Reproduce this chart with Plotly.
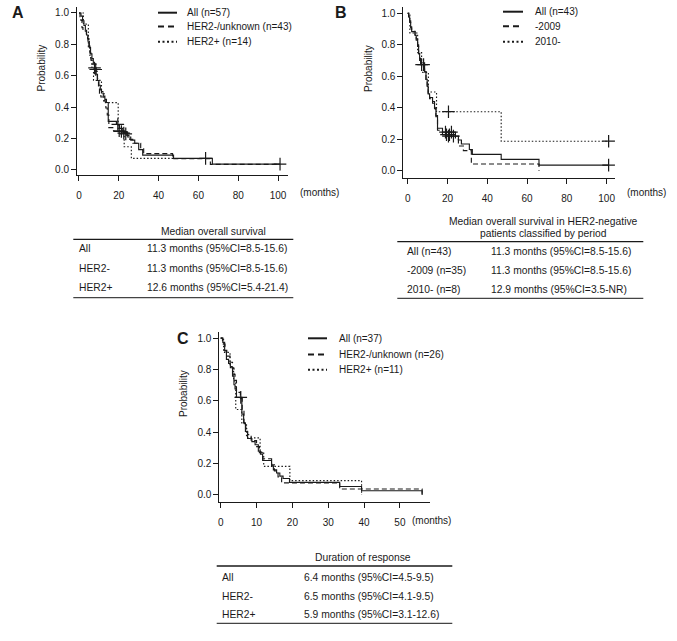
import plotly.graph_objects as go

W, H = 677, 641
FONT = "Liberation Sans, Arial, sans-serif"
INK = "#1a1a1a"

# ---------------- Data ----------------
# Panel A: overall survival, all patients (n=57)
a_all_t = [0, 1.0, 1.8, 2.5, 3.2, 3.8, 4.5, 5.2, 5.8, 6.5, 7.2, 7.8, 8.6, 9.3, 10.0, 10.7, 11.3, 12.2, 13.0, 13.8, 14.7,
           18.8, 20.3, 22.0, 24.5, 26.0, 28.0, 30.0, 32.0, 47.5, 67.0, 101.0]
a_all_s = [1.0, 0.98, 0.95, 0.92, 0.89, 0.86, 0.82, 0.78, 0.74, 0.71, 0.68, 0.65, 0.61, 0.57, 0.54, 0.51, 0.49, 0.47, 0.45, 0.43, 0.31,
           0.29, 0.265, 0.24, 0.21, 0.19, 0.17, 0.13, 0.095, 0.074, 0.037, 0.037]
a_all_cens_t = [7.8, 8.4, 19.5, 20.2, 21.3, 22.5, 23.5, 63.6, 101.0]
a_all_cens_s = [0.65, 0.64, 0.29, 0.25, 0.245, 0.235, 0.23, 0.074, 0.037]

# HER2-negative / unknown (n=43) -- same cohort as "All (n=43)" in panel B
her2neg_t = [0, 0.5, 1.0, 1.5, 2.0, 3.7, 4.3, 5.0, 5.5, 6.0, 6.5, 8.5, 9.2, 9.8, 10.3, 11.0, 12.5, 13.5, 14.2, 15.0,
             17.5, 24.0, 25.5, 27.0, 31.0, 32.5, 47.0, 66.0, 101.0]
her2neg_s = [1.0, 0.977, 0.953, 0.907, 0.884, 0.86, 0.837, 0.79, 0.744, 0.70, 0.674, 0.628, 0.581, 0.535, 0.488, 0.465, 0.44, 0.395, 0.35, 0.27,
             0.245, 0.22, 0.195, 0.17, 0.135, 0.104, 0.072, 0.036, 0.036]
her2neg_cens_t = [7.0, 8.0, 19.0, 20.5, 22.0, 23.0, 101.0]
her2neg_cens_s = [0.674, 0.674, 0.245, 0.22, 0.245, 0.22, 0.036]

# HER2-positive (n=14)
a_pos_t = [0, 2.2, 4.7, 5.5, 6.5, 7.3, 11.3, 12.6, 19.7, 22.7, 26.3, 48.0]
a_pos_s = [1.0, 0.929, 0.786, 0.714, 0.643, 0.571, 0.5, 0.429, 0.25, 0.148, 0.074, 0.074]

# Panel B: HER2-negative by period
b_pre_t = [0, 0.5, 1.0, 1.5, 2.0, 3.7, 4.3, 5.0, 5.5, 6.0, 6.5, 8.5, 9.2, 9.8, 10.3, 11.0, 12.5, 13.5, 14.2, 15.0,
           17.5, 24.0, 25.5, 28.0, 32.0, 66.0]
b_pre_s = [1.0, 0.971, 0.943, 0.914, 0.886, 0.857, 0.829, 0.80, 0.743, 0.714, 0.686, 0.629, 0.571, 0.543, 0.486, 0.457, 0.429, 0.40, 0.343, 0.257,
           0.229, 0.20, 0.157, 0.128, 0.043, 0.0]
b_pre_cens_t = [19.5, 21.0]
b_pre_cens_s = [0.229, 0.229]

b_post_t = [0, 1.1, 5.0, 7.0, 10.4, 14.5, 47.0, 101.0]
b_post_s = [1.0, 0.875, 0.75, 0.625, 0.5, 0.375, 0.1875, 0.1875]
b_post_cens_t = [20.5, 101.0]
b_post_cens_s = [0.375, 0.1875]

# Panel C: duration of response
c_all_t = [0, 0.6, 1.1, 1.6, 2.2, 2.7, 3.3, 3.7, 4.0, 4.4, 5.9, 6.4, 6.9, 7.5, 8.7, 9.6, 10.5, 11.1, 11.7, 14.2, 14.7, 15.6, 16.5,
           17.4, 19.2, 33.2, 39.3, 56.2]
c_all_s = [1.0, 0.973, 0.919, 0.865, 0.838, 0.811, 0.757, 0.703, 0.676, 0.622, 0.515, 0.459, 0.405, 0.36, 0.34, 0.32, 0.28, 0.26, 0.22, 0.185,
           0.16, 0.14, 0.12, 0.105, 0.08, 0.054, 0.027, 0.0]
c_all_cens_t = [5.6]
c_all_cens_s = [0.622]

c_neg_t = [0, 0.5, 1.2, 1.7, 2.6, 3.3, 3.7, 4.0, 4.4, 5.5, 6.0, 6.5, 7.0, 7.5, 8.5, 10.0, 10.8, 11.7, 14.2, 15.0, 16.0, 17.0, 33.2, 56.2]
c_neg_s = [1.0, 0.962, 0.923, 0.885, 0.846, 0.808, 0.769, 0.731, 0.654, 0.615, 0.538, 0.462, 0.423, 0.385, 0.346, 0.308, 0.269, 0.231,
           0.192, 0.154, 0.115, 0.077, 0.038, 0.0]

c_pos_t = [0, 0.8, 2.6, 3.6, 4.2, 5.9, 7.2, 11.0, 12.0, 19.3, 39.3]
c_pos_s = [1.0, 0.909, 0.818, 0.727, 0.545, 0.455, 0.364, 0.273, 0.182, 0.091, 0.0]

# Legends and tables
legend_a = ["All (n=57)", "HER2-/unknown (n=43)", "HER2+ (n=14)"]
legend_b = ["All (n=43)", "-2009", "2010-"]
legend_c = ["All (n=37)", "HER2-/unknown (n=26)", "HER2+ (n=11)"]

table_a_title = ["Median overall survival"]
table_a_labels = ["All", "HER2-", "HER2+"]
table_a_values = ["11.3 months (95%CI=8.5-15.6)", "11.3 months (95%CI=8.5-15.6)", "12.6 months (95%CI=5.4-21.4)"]

table_b_title = ["Median overall survival in HER2-negative", "patients classified by period"]
table_b_labels = ["All (n=43)", "-2009 (n=35)", "2010- (n=8)"]
table_b_values = ["11.3 months (95%CI=8.5-15.6)", "11.3 months (95%CI=8.5-15.6)", "12.9 months (95%CI=3.5-NR)"]

table_c_title = ["Duration of response"]
table_c_labels = ["All", "HER2-", "HER2+"]
table_c_values = ["6.4 months (95%CI=4.5-9.5)", "6.5 months (95%CI=4.1-9.5)", "5.9 months (95%CI=3.1-12.6)"]

# ---------------- Figure ----------------
DASH = "5px,3px"
DOT = "1.5px,2px"

fig = go.Figure()


def px(x):
    return x / W


def py(y):
    return 1 - y / H


def add_curve(t, s, dash, ax):
    fig.add_trace(go.Scatter(x=t, y=s, mode="lines", line=dict(color=INK, width=1.15, dash=dash, shape="hv"),
                             xaxis="x" + ax, yaxis="y" + ax, showlegend=False, hoverinfo="skip"))


def add_cens(t, s, ax):
    fig.add_trace(go.Scatter(x=t, y=s, mode="markers",
                             marker=dict(symbol="cross-thin", size=9, line=dict(color=INK, width=1.2)),
                             xaxis="x" + ax, yaxis="y" + ax, showlegend=False, hoverinfo="skip"))


# panel A
add_curve(her2neg_t, her2neg_s, DASH, "")
add_curve(a_pos_t, a_pos_s, DOT, "")
add_curve(a_all_t, a_all_s, "solid", "")
add_cens(a_all_cens_t, a_all_cens_s, "")
# panel B
add_curve(b_pre_t, b_pre_s, DASH, "2")
add_curve(b_post_t, b_post_s, DOT, "2")
add_curve(her2neg_t, her2neg_s, "solid", "2")
add_cens(her2neg_cens_t, her2neg_cens_s, "2")
add_cens(b_pre_cens_t, b_pre_cens_s, "2")
add_cens(b_post_cens_t, b_post_cens_s, "2")
# panel C
add_curve(c_neg_t, c_neg_s, DASH, "3")
add_curve(c_pos_t, c_pos_s, DOT, "3")
add_curve(c_all_t, c_all_s, "solid", "3")
add_cens(c_all_cens_t, c_all_cens_s, "3")

axis_common = dict(showline=True, linecolor=INK, linewidth=1, ticks="outside", ticklen=5, tickwidth=1,
                   tickcolor=INK, showgrid=False, zeroline=False,
                   tickfont=dict(family=FONT, size=10, color=INK))
xa = dict(axis_common, ticklabelstandoff=6)
ya = dict(axis_common, tickvals=[0, 0.2, 0.4, 0.6, 0.8, 1.0], tickformat=".1f")

fig.update_layout(
    width=W, height=H, margin=dict(l=0, r=0, t=0, b=0),
    paper_bgcolor="white", plot_bgcolor="white",
    xaxis=dict(xa, domain=[px(77), px(288)], range=[-1.0, 105], tickvals=[0, 20, 40, 60, 80, 100], anchor="y"),
    yaxis=dict(ya, domain=[py(175), py(6.7)], range=[-0.032, 1.04], anchor="x"),
    xaxis2=dict(xa, domain=[px(403.3), px(615)], range=[-2.2, 104.2], tickvals=[0, 20, 40, 60, 80, 100], anchor="y2"),
    yaxis2=dict(ya, domain=[py(178.3), py(6.7)], range=[-0.048, 1.042], anchor="x2"),
    xaxis3=dict(xa, domain=[px(219.3), px(430)], range=[-0.39, 58.4], tickvals=[0, 10, 20, 30, 40, 50], anchor="y3"),
    yaxis3=dict(ya, domain=[py(501.7), py(331.7)], range=[-0.043, 1.041], anchor="x3"),
)

ann = []
shapes = []


def text(x, y, s, size=10, xanchor="left", bold=False, angle=0):
    ann.append(dict(x=px(x), y=py(y), xref="paper", yref="paper", text=("<b>%s</b>" % s) if bold else s,
                    showarrow=False, xanchor=xanchor, yanchor="middle", textangle=angle,
                    font=dict(family=FONT, size=size, color=INK)))


def hline(x0, x1, y, width=1, dash="solid", color=INK):
    shapes.append(dict(type="line", xref="paper", yref="paper", x0=px(x0), x1=px(x1), y0=py(y), y1=py(y),
                       line=dict(color=color, width=width, dash=dash)))


# panel letters
text(17.5, 12.5, "A", size=16, xanchor="center", bold=True)
text(340.5, 12.5, "B", size=16, xanchor="center", bold=True)
text(182.5, 338.5, "C", size=16, xanchor="center", bold=True)

# y titles and x units
text(41.5, 68, "Probability", angle=-90, xanchor="center")
text(368, 69, "Probability", angle=-90, xanchor="center")
text(183, 393, "Probability", angle=-90, xanchor="center")
text(298, 193, "(months)")
text(625, 193, "(months)")
text(410, 520, "(months)")

# legends
LEG_STYLES = ["solid", "6px,4px", "2px,2.5px"]
for labels, x0, x1, xt, ys in [(legend_a, 158, 177, 185, [12.7, 26.5, 41.8]),
                                (legend_b, 503, 523, 532.7, [11.7, 26.2, 41.7]),
                                (legend_c, 308, 327, 337.3, [338.3, 354.5, 369.8])]:
    for lab, st, y in zip(labels, LEG_STYLES, ys):
        hline(x0, x1, y, width=2, dash=st)
        text(xt, y, lab)

# tables
for title, title_x, title_ys, labels, values, lx, vx, row_ys, x0, x1, top, bottom in [
    (table_a_title, 213.3, [231.7], table_a_labels, table_a_values, 77.3, 145, [248.3, 268.3, 287.7], 73.3, 293.3, 239.3, 297.7),
    (table_b_title, 543, [221.7, 233.3], table_b_labels, table_b_values, 405, 489.3, [251.7, 270, 289], 397.3, 643.3, 241.7, 298.3),
    (table_c_title, 363.3, [557.7], table_c_labels, table_c_values, 220, 301.7, [577.3, 596.7, 614.3], 216.7, 452.3, 566, 623.3),
]:
    for tl, ty in zip(title, title_ys):
        text(title_x, ty, tl, size=10.3, xanchor="center")
    for lab, val, ry in zip(labels, values, row_ys):
        text(lx, ry, lab, size=10.3)
        text(vx, ry, val, size=10.3)
    hline(x0, x1, top, width=1.3)
    hline(x0, x1, bottom, width=1.3, color="#444")

fig.update_layout(annotations=ann, shapes=shapes)
fig.write_html("out.html", config={"displayModeBar": False, "staticPlot": True},
               post_script="document.body.style.margin='0px';document.body.style.padding='0px';")
